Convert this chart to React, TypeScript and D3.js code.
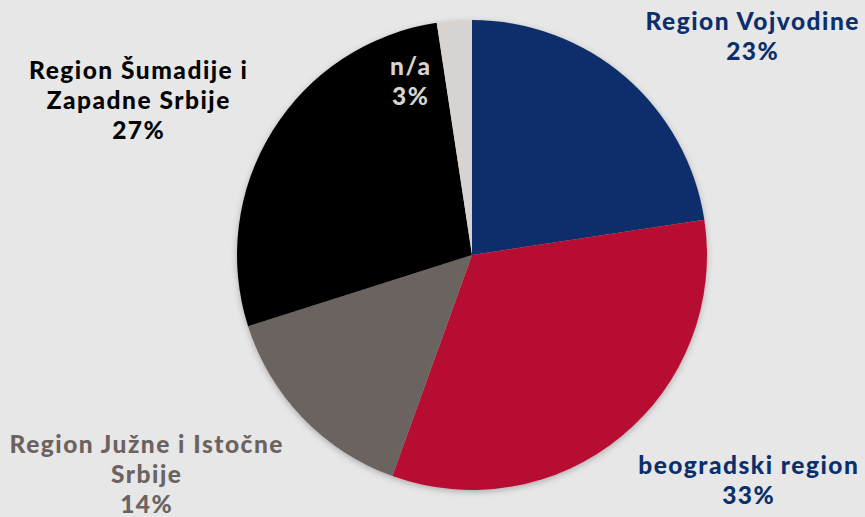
import * as d3 from 'd3';
import React from 'react';

const regions = ['Region Vojvodine', 'beogradski region', 'Region Južne i Istočne Srbije', 'Region Šumadije i Zapadne Srbije', 'n/a'];
// slice sizes (labels show rounded values)
const shares = [22.6, 32.9, 14.6, 27.5, 2.4];
const colors = ['#0b2f6b', '#b70d30', '#6b6361', '#030303', '#d6d3d0'];

const labelLines = [
  ['Region Vojvodine', '23%'],
  ['beogradski region', '33%'],
  ['Region Južne i Istočne', 'Srbije', '14%'],
  ['Region Šumadije i', 'Zapadne Srbije', '27%'],
  ['n/a', '3%'],
];
const labelColors = ['#0b2f6b', '#0b2f6b', '#6b6361', '#030303', '#d6d3d0'];
const labelPos = [[752, 30], [748, 474], [146, 453], [138, 79], [410, 75]];

export default function App() {
  const width = 865, height = 517;
  const cx = 472, cy = 255, r = 235;
  const ls = 1.5;

  const pie = d3.pie<number>().sort(null).value(d => d);
  const arcs = pie(shares);
  const arc = d3.arc<d3.PieArcDatum<number>>().innerRadius(0).outerRadius(r);

  return (
    <svg width={width} height={height} style={{position: 'absolute', left: 0, top: 0, background: '#e7e7e7'}}>
      <defs>
        <filter id="sh" x="-10%" y="-10%" width="120%" height="120%">
          <feDropShadow dx="0" dy="2" stdDeviation="3" floodColor="#000" floodOpacity="0.25" />
        </filter>
      </defs>
      <g transform={`translate(${cx},${cy})`} filter="url(#sh)">
        {arcs.map((a, i) => (
          <path key={regions[i]} d={arc(a) || ''} fill={colors[i]} />
        ))}
      </g>
      {labelLines.map((lines, i) => (
        <text key={i} x={labelPos[i][0] + ls / 2} y={labelPos[i][1]} textAnchor="middle"
          fill={labelColors[i]} fontFamily="Lato, sans-serif" fontWeight={900} fontSize={24.5}
          letterSpacing={ls}>
          {lines.map((t, j) => (
            <tspan key={j} x={labelPos[i][0] + ls / 2} dy={j === 0 ? 0 : 30}>{t}</tspan>
          ))}
        </text>
      ))}
    </svg>
  );
}
